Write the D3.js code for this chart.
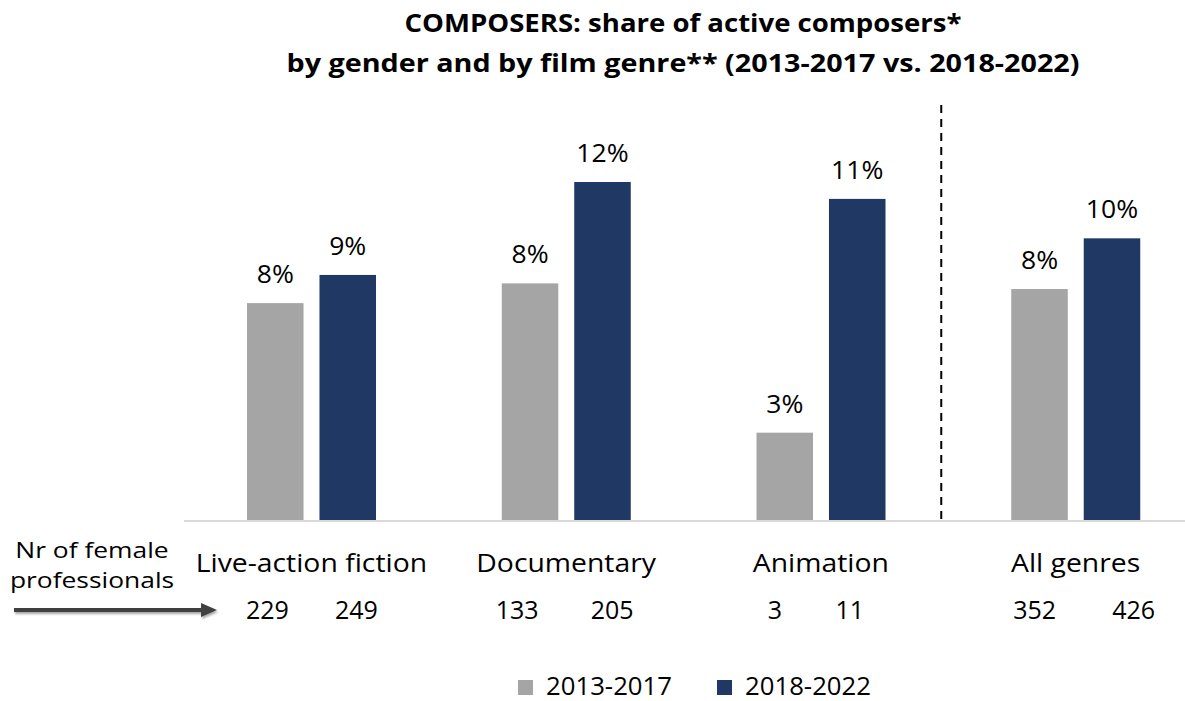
<!DOCTYPE html>
<html><head><meta charset="utf-8">
<script src="https://cdn.jsdelivr.net/npm/d3@7"></script>
<style>body{margin:0;background:#fff}svg{display:block}</style>
</head><body>
<script>
const categories = ["Live-action fiction","Documentary","Animation","All genres"];
const seriesNames = ["2013-2017","2018-2022"];
const share2013_2017 = [7.7, 8.4, 3.1, 8.2];
const share2018_2022 = [8.7, 12.0, 11.4, 10.0];
const labels2013_2017 = ["8%","8%","3%","8%"];
const labels2018_2022 = ["9%","12%","11%","10%"];
const count2013_2017 = ["229","133","3","352"];
const count2018_2022 = ["249","205","11","426"];
const titleLines = ["COMPOSERS: share of active composers*","by gender and by film genre** (2013-2017 vs. 2018-2022)"];
const sideNote = ["Nr of female","professionals"];

const W = 1185, H = 701;
const colors = ["#a5a5a5", "#203864"];
const bodyFont = "'Open Sans', Lato, sans-serif";

const svg = d3.select("body").append("svg").attr("width", W).attr("height", H);

// helper: text with slight horizontal stretch
function stext(sel, xf, yf, size, sx, anchor) {
  return sel.attr("transform", (d,i)=>`translate(${xf(d,i)},${yf(d,i)}) scale(${sx},1)`)
    .attr("text-anchor", anchor || "middle")
    .attr("font-family", bodyFont).attr("font-size", size).attr("fill", "#000");
}

const x0 = d3.scaleBand().domain(categories).range([184, 1203]).paddingInner(0).paddingOuter(0);
const x1 = d3.scaleBand().domain(seriesNames).range([63, 192]).paddingInner(0.22).paddingOuter(0);
const y = d3.scaleLinear().domain([0, 12]).range([520, 182]);

// title
svg.append("g").selectAll("text").data(titleLines).join("text")
  .attr("x", 683).attr("y", (d,i)=> 32 + i*40)
  .attr("text-anchor","middle")
  .attr("font-family","'Open Sans', Lato, sans-serif").attr("font-weight",700)
  .attr("font-size",25).attr("fill","#000")
  .attr("textLength", (d,i)=> i===0 ? 557 : 793).attr("lengthAdjust","spacingAndGlyphs")
  .text(d=>d);

// baseline
svg.append("line").attr("x1",184).attr("x2",W).attr("y1",521).attr("y2",521)
  .attr("stroke","#d9d9d9").attr("stroke-width",2);

// dashed separator
const sepX = x0("All genres") - 7;
svg.append("line").attr("x1",sepX).attr("x2",sepX).attr("y1",105).attr("y2",520)
  .attr("stroke","#000").attr("stroke-width",2).attr("stroke-dasharray","8,6");

const rows = categories.map((c,i)=>({cat:c, vals:[share2013_2017[i], share2018_2022[i]], labs:[labels2013_2017[i], labels2018_2022[i]]}));

const g = svg.append("g").selectAll("g").data(rows).join("g")
  .attr("transform", d=>`translate(${x0(d.cat)},0)`);

g.selectAll("rect").data(d=> d.vals.map((v,j)=>({s:seriesNames[j], v, j}))).join("rect")
  .attr("x", d=>x1(d.s)).attr("width", x1.bandwidth())
  .attr("y", d=>y(d.v)).attr("height", d=>y(0)-y(d.v))
  .attr("fill", d=>colors[d.j]);

stext(g.selectAll("text.val").data(d=> d.vals.map((v,j)=>({s:seriesNames[j], v, l:d.labs[j]}))).join("text").attr("class","val"),
  d=>x1(d.s)+x1.bandwidth()/2, d=>y(d.v)-20, 26, 1.02)
  .text(d=>d.l);

// category labels
stext(svg.append("g").selectAll("text").data(categories).join("text"),
  d=>x0(d)+x0.bandwidth()/2, ()=>572, 26, 1.09)
  .text(d=>d);

// counts
const counts = categories.map((c,i)=>({c, a:count2013_2017[i], b:count2018_2022[i]}));
const offA = {"Live-action fiction":-44, "Documentary":-49, "Animation":-46, "All genres":-41};
const offB = {"Live-action fiction":45, "Documentary":46, "Animation":29, "All genres":58};
const cg = svg.append("g").selectAll("g").data(counts).join("g");
stext(cg.append("text"), d=>x0(d.c)+x0.bandwidth()/2 + offA[d.c], ()=>619, 25, 1.0).text(d=>d.a);
stext(cg.append("text"), d=>x0(d.c)+x0.bandwidth()/2 + offB[d.c], ()=>619, 25, 1.0).text(d=>d.b);

// side note
stext(svg.append("g").selectAll("text").data(sideNote).join("text"),
  ()=>92, (d,i)=>558+i*30, 22, 1.2).text(d=>d);

// arrow with shadow
const defs = svg.append("defs");
const f = defs.append("filter").attr("id","sh").attr("x","-10%").attr("y","-100%").attr("width","120%").attr("height","300%");
f.append("feDropShadow").attr("dx",1).attr("dy",2).attr("stdDeviation",1.2).attr("flood-color","#000").attr("flood-opacity",0.35);
const ag = svg.append("g").attr("filter","url(#sh)");
ag.append("line").attr("x1",14).attr("x2",203).attr("y1",610).attr("y2",610).attr("stroke","#404040").attr("stroke-width",4);
ag.append("path").attr("d","M201,603 L217,610 L201,617 Z").attr("fill","#404040");

// legend
const lg = svg.append("g").selectAll("g").data(seriesNames).join("g")
  .attr("transform",(d,i)=>`translate(${518 + i*199},680)`);
lg.append("rect").attr("width",15).attr("height",15).attr("fill",(d,i)=>colors[i]);
stext(lg.append("text"), ()=>28, ()=>15, 25, 1.03, "start").text(d=>d);
</script>
</body></html>
